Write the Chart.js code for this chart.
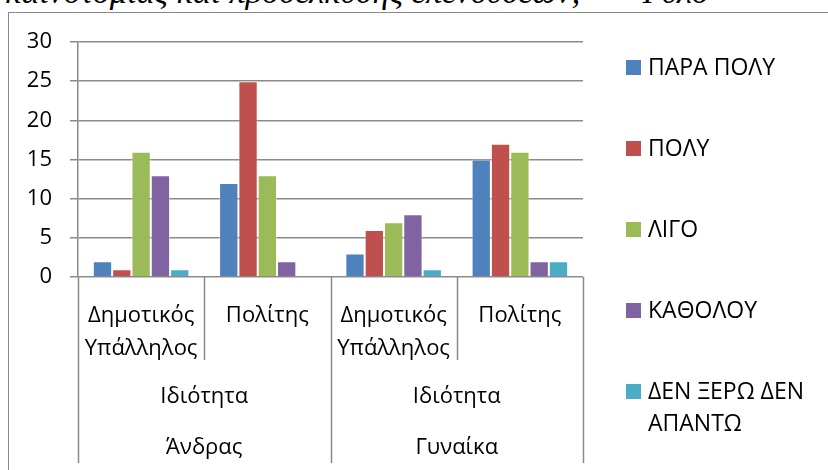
<!DOCTYPE html>
<html>
<head>
<meta charset="utf-8">
<script src="https://cdn.jsdelivr.net/npm/chart.js@4/dist/chart.umd.min.js"></script>
<style>
  html, body { margin: 0; padding: 0; background: #fff; overflow: hidden; }
  #wrap { position: relative; width: 828px; height: 470px; }
  #title {
    position: absolute; left: 5px; top: -25px; white-space: nowrap;
    font-family: "Liberation Serif", serif; font-style: italic; font-size: 34px; line-height: 34px; color: #000;
  }
  #frame { position: absolute; left: 8px; top: 12px; width: 840px; height: 480px; border-left: 1.5px solid #8a8a8a; border-top: 1.5px solid #8a8a8a; }
  canvas { position: absolute; left: 0; top: 0; }
</style>
</head>
<body>
<div id="wrap">
  <div id="title">καινοτομίας και προσέλκυσης επενδύσεων;” – Φύλο</div>
  <div id="frame"></div>
  <canvas id="chart" width="828" height="470"></canvas>
</div>
<script>
// κατηγορίες (3 επίπεδα)
var categories = [['Δημοτικός', 'Υπάλληλος'], 'Πολίτης', ['Δημοτικός', 'Υπάλληλος'], 'Πολίτης'];
var midLabels = ['Ιδιότητα', 'Ιδιότητα'];
var outerLabels = ['Άνδρας', 'Γυναίκα'];

var seriesNames = ['ΠΑΡΑ ΠΟΛΥ', 'ΠΟΛΥ', 'ΛΙΓΟ', 'ΚΑΘΟΛΟΥ', 'ΔΕΝ ΞΕΡΩ ΔΕΝ ΑΠΑΝΤΩ'];
var paraPoly = [2, 12, 3, 15];
var poly = [1, 25, 6, 17];
var ligo = [16, 13, 7, 16];
var katholou = [13, 2, 8, 2];
var denXero = [1, 0, 1, 2];
var yTicks = [0, 5, 10, 15, 20, 25, 30];

var colors = ['#4F81BD', '#C0504D', '#9BBB59', '#8064A2', '#4BACC6'];
var allValues = [paraPoly, poly, ligo, katholou, denXero];
var FONT = '"Open Sans", "Noto Sans", sans-serif';
var GRID = '#8a8a8a';

var datasets = [];
for (var i = 0; i < seriesNames.length; i++) {
    datasets.push({
        label: seriesNames[i],
        data: allValues[i],
        backgroundColor: colors[i],
        borderColor: 'rgba(255,255,255,0.45)',
        borderWidth: 1,
        categoryPercentage: 0.765,
        barPercentage: 1
    });
}

// ομαδοποιημένος άξονας x + υπόμνημα
var extrasPlugin = {
    id: 'extras',
    afterDraw: function (chart) {
        var ctx = chart.ctx;
        var x = chart.scales.x;
        var area = chart.chartArea;
        var n = categories.length;
        var step = (area.right - area.left) / n;
        var bottom = 463;
        var row1End = 360;

        ctx.save();
        ctx.strokeStyle = GRID;
        ctx.lineWidth = 1.5;
        for (var i = 0; i <= n; i++) {
            var px = Math.round(area.left + step * i) + 0.5;
            ctx.beginPath();
            ctx.moveTo(px, area.bottom);
            ctx.lineTo(px, (i % 2 === 0) ? bottom : row1End);
            ctx.stroke();
        }

        ctx.fillStyle = '#000';
        ctx.font = '22px ' + FONT;
        ctx.textAlign = 'center';
        ctx.textBaseline = 'middle';
        for (var g = 0; g < midLabels.length; g++) {
            var cx = (x.getPixelForValue(g * 2) + x.getPixelForValue(g * 2 + 1)) / 2;
            ctx.fillText(midLabels[g], cx, 397);
            ctx.fillText(outerLabels[g], cx, 448);
        }

        // υπόμνημα
        ctx.textAlign = 'left';
        ctx.font = '23px ' + FONT;
        var ly = 67;
        chart.data.datasets.forEach(function (ds, k) {
            var y = ly + k * 81;
            ctx.fillStyle = ds.backgroundColor;
            ctx.fillRect(626, y - 7, 15, 15);
            ctx.fillStyle = '#000';
            var words = ds.label.split(' ');
            var line = '';
            var lines = [];
            words.forEach(function (w) {
                var test = line ? line + ' ' + w : w;
                if (ctx.measureText(test).width > 172 && line) {
                    lines.push(line);
                    line = w;
                } else {
                    line = test;
                }
            });
            lines.push(line);
            lines.forEach(function (t, j) {
                ctx.fillText(t, 648, y + 1 + j * 32);
            });
        });
        ctx.restore();
    }
};

new Chart(document.getElementById('chart'), {
    type: 'bar',
    data: {
        labels: categories,
        datasets: datasets
    },
    options: {
        responsive: false,
        animation: false,
        layout: {
            padding: { left: 0, top: 42, right: 245, bottom: 0 }
        },
        plugins: {
            legend: { display: false },
            tooltip: { enabled: false }
        },
        scales: {
            x: {
                grid: { display: false },
                border: { display: false },
                ticks: {
                    color: '#000',
                    font: { family: FONT, size: 22, lineHeight: 1.5 },
                    padding: 14,
                    maxRotation: 0,
                    autoSkip: false
                },
                afterFit: function (s) { s.height = 193; }
            },
            y: {
                min: 0,
                max: 30,
                afterBuildTicks: function (s) {
                    s.ticks = yTicks.map(function (v) { return { value: v }; });
                },
                grid: { color: GRID, lineWidth: 1.5, tickLength: 8 },
                border: { display: true, color: GRID, width: 1.5 },
                ticks: {
                    color: '#000',
                    font: { family: FONT, size: 22 },
                    padding: 18
                },
                afterFit: function (s) { s.width = 78; }
            }
        }
    },
    plugins: [extrasPlugin]
});
</script>
</body>
</html>
